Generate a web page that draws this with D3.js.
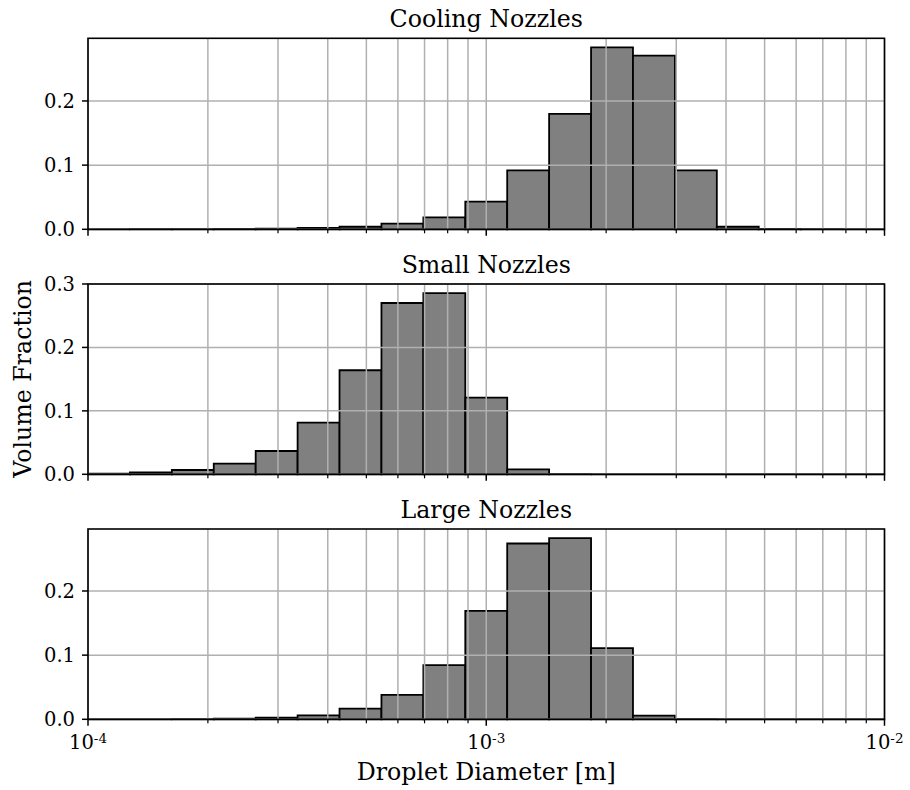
<!DOCTYPE html>
<html><head><meta charset="utf-8">
<script src="https://cdn.jsdelivr.net/npm/d3@7"></script>
<style>body{margin:0;background:#fff}svg text{font-family:"DejaVu Serif",serif;fill:#000}</style>
</head><body>
<svg id="c" width="910" height="790"></svg>
<script>
// Bin edges [m] (19 log-spaced bins between 1e-4 and 1e-2)
const binEdges = [1.0000e-4, 1.2743e-4, 1.6238e-4, 2.0691e-4, 2.6367e-4, 3.3598e-4, 4.2813e-4, 5.4556e-4, 6.9519e-4, 8.8587e-4,
  1.1288e-3, 1.4384e-3, 1.8330e-3, 2.3357e-3, 2.9764e-3, 3.7927e-3, 4.8329e-3, 6.1585e-3, 7.8476e-3, 1.0000e-2];
const panelTitles = ["Cooling Nozzles", "Small Nozzles", "Large Nozzles"];
const coolingValues = [0, 0.0001, 0.0002, 0.0005, 0.001, 0.002, 0.004, 0.0087, 0.0187, 0.043, 0.0917, 0.180, 0.2835, 0.2706, 0.0917, 0.004, 0.0005, 0.0001, 0];
const smallValues   = [0.001, 0.0031, 0.0068, 0.0167, 0.0367, 0.0814, 0.164, 0.270, 0.2857, 0.1208, 0.0079, 0.0002, 0, 0, 0, 0, 0, 0, 0];
const largeValues   = [0, 0, 0.0003, 0.001, 0.0025, 0.006, 0.0165, 0.038, 0.0845, 0.169, 0.274, 0.2825, 0.111, 0.0056, 0.0003, 0, 0, 0, 0];
const yTicksPerPanel = [[0, 0.1, 0.2], [0, 0.1, 0.2, 0.3], [0, 0.1, 0.2]];
const xMajorTicks = [1e-4, 1e-3, 1e-2];
const xMajorExps = ["-4", "-3", "-2"];
const xLabel = "Droplet Diameter [m]";
const yLabel = "Volume Fraction";

const series = [coolingValues, smallValues, largeValues];
const svg = d3.select("#c");
const L = 88, R = 884.5;
const panels = [{top: 38.3, bottom: 229.3}, {top: 284, bottom: 474.3}, {top: 529, bottom: 719.3}];
const x = d3.scaleLog().domain([1e-4, 1e-2]).range([L, R]);
const minorTicks = [];
[1e-4, 1e-3].forEach(d => { for (let k = 2; k <= 9; k++) minorTicks.push(d * k); });
const gridColor = "#b0b0b0";

panels.forEach((p, i) => {
  const vals = series[i];
  const ymax = d3.max(vals) * 1.05;
  const y = d3.scaleLinear().domain([0, ymax]).range([p.bottom, p.top]);
  const g = svg.append("g");
  // bars
  const bars = vals.map((v, j) => ({x0: binEdges[j], x1: binEdges[j + 1], v}));
  g.selectAll("path.bar").data(bars).join("path")
    .attr("d", d => {
      const pa = d3.path();
      pa.moveTo(x(d.x0), y(0)); pa.lineTo(x(d.x0), y(d.v)); pa.lineTo(x(d.x1), y(d.v)); pa.lineTo(x(d.x1), y(0)); pa.closePath();
      return pa.toString();
    })
    .attr("fill", "#808080").attr("stroke", "#000").attr("stroke-width", 1.8).attr("stroke-linejoin", "miter");
  // grid
  const allX = xMajorTicks.concat(minorTicks);
  g.selectAll("line.vg").data(allX).join("line")
    .attr("x1", d => x(d)).attr("x2", d => x(d)).attr("y1", p.top).attr("y2", p.bottom)
    .attr("stroke", gridColor).attr("stroke-width", 1.5);
  const yt = yTicksPerPanel[i];
  g.selectAll("line.hg").data(yt).join("line")
    .attr("x1", L).attr("x2", R).attr("y1", d => y(d)).attr("y2", d => y(d))
    .attr("stroke", gridColor).attr("stroke-width", 1.5);
  // ticks
  g.selectAll("line.ytk").data(yt).join("line")
    .attr("x1", L - 6).attr("x2", L).attr("y1", d => y(d)).attr("y2", d => y(d))
    .attr("stroke", "#000").attr("stroke-width", 1.5);
  g.selectAll("text.ytl").data(yt).join("text")
    .attr("x", L - 13).attr("y", d => y(d)).attr("dy", "0.36em")
    .attr("text-anchor", "end").attr("font-size", 19.5)
    .text(d => d3.format(".1f")(d));
  g.selectAll("line.xmaj").data(xMajorTicks).join("line")
    .attr("x1", d => x(d)).attr("x2", d => x(d)).attr("y1", p.bottom).attr("y2", p.bottom + 6.5)
    .attr("stroke", "#000").attr("stroke-width", 1.5);
  g.selectAll("line.xmin").data(minorTicks).join("line")
    .attr("x1", d => x(d)).attr("x2", d => x(d)).attr("y1", p.bottom).attr("y2", p.bottom + 4)
    .attr("stroke", "#000").attr("stroke-width", 1.2);
  // frame
  g.append("rect").attr("x", L).attr("y", p.top).attr("width", R - L).attr("height", p.bottom - p.top)
    .attr("fill", "none").attr("stroke", "#000").attr("stroke-width", 1.6);
  // title
  g.append("text").attr("x", (L + R) / 2).attr("y", p.top - 11).attr("text-anchor", "middle")
    .attr("font-size", 23.7).text(panelTitles[i]);
  if (i === 2) {
    const tl = g.selectAll("text.xtl").data(xMajorTicks).join("text")
      .attr("x", d => x(d)).attr("y", p.bottom + 30).attr("text-anchor", "middle").attr("font-size", 19.5);
    tl.append("tspan").text("10");
    tl.append("tspan").attr("dy", "-0.45em").attr("font-size", 13.5).text((d, k) => xMajorExps[k]);
  }
});
svg.append("text").attr("x", (L + R) / 2).attr("y", 780).attr("text-anchor", "middle").attr("font-size", 23.7).text(xLabel);
svg.append("text").attr("transform", `translate(31,${(panels[0].top + panels[2].bottom) / 2}) rotate(-90)`)
  .attr("text-anchor", "middle").attr("font-size", 23.7).text(yLabel);
</script>
</body></html>
